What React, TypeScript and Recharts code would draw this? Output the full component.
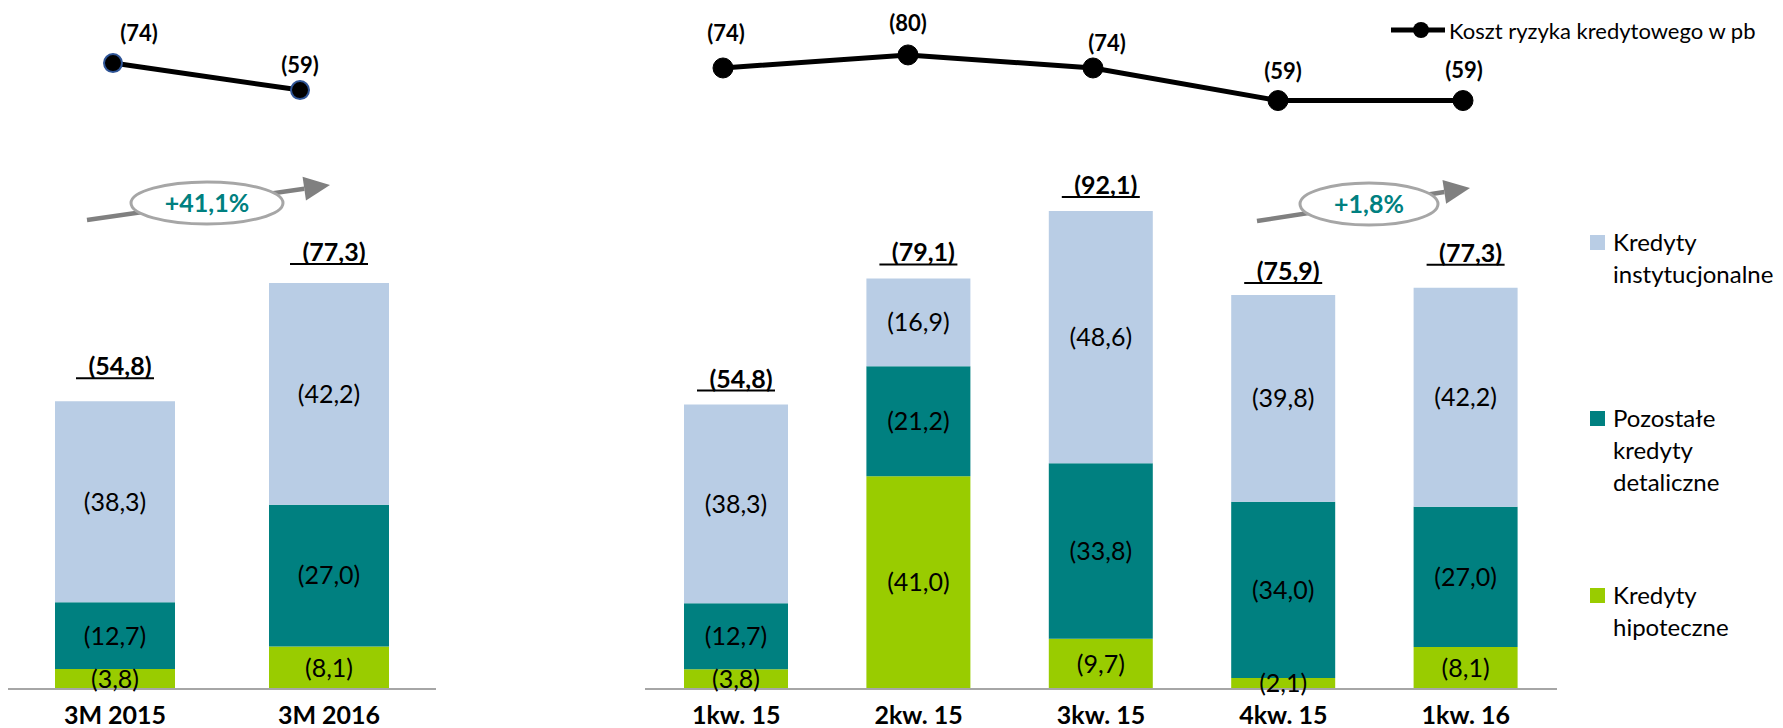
import React from "react";
import {
  Bar,
  ComposedChart,
  LabelList,
  Legend,
  Line,
  LineChart,
  XAxis,
  YAxis,
} from "recharts";

// 3M comparison (left panel)
const leftPeriods = ["3M 2015", "3M 2016"];
const leftHipoteczne = [3.8, 8.1];
const leftPozostale = [12.7, 27.0];
const leftInstytucjonalne = [38.3, 42.2];
const leftTotals = [54.8, 77.3];
const leftKoszt = [74, 59];

// quarterly (right panel)
const quarters = ["1kw. 15", "2kw. 15", "3kw. 15", "4kw. 15", "1kw. 16"];
const hipoteczne = [3.8, 41.0, 9.7, 2.1, 8.1];
const pozostale = [12.7, 21.2, 33.8, 34.0, 27.0];
const instytucjonalne = [38.3, 16.9, 48.6, 39.8, 42.2];
const totals = [54.8, 79.1, 92.1, 75.9, 77.3];
const koszt = [74, 80, 74, 59, 59];

const growthLabels = ["+41,1%", "+1,8%"];

const NAME_HIP = "Kredyty hipoteczne";
const NAME_POZ = "Pozostałe kredyty detaliczne";
const NAME_INST = "Kredyty instytucjonalne";
const NAME_KOSZT = "Koszt ryzyka kredytowego w pb";

const C_INST = "#B9CDE5";
const C_POZ = "#008080";
const C_HIP = "#99CC00";
const C_AXIS = "#A6A6A6";
const C_ARROW = "#808080";
const FONT = "Lato, 'Open Sans', sans-serif";

const leftRows = leftPeriods.map((period, i) => ({
  period,
  hip: leftHipoteczne[i],
  poz: leftPozostale[i],
  inst: leftInstytucjonalne[i],
  total: leftTotals[i],
  koszt: leftKoszt[i],
}));

const rows = quarters.map((period, i) => ({
  period,
  hip: hipoteczne[i],
  poz: pozostale[i],
  inst: instytucjonalne[i],
  total: totals[i],
  koszt: koszt[i],
}));

const fmt1 = (v: number) => `(${Number(v).toFixed(1).replace(".", ",")})`;

const CategoryTick = (props: any) => {
  const { x, y, payload } = props;
  return (
    <text x={x} y={y + 35} textAnchor="middle" fontSize={25} fontWeight={700} fill="#000" fontFamily={FONT}>
      {payload.value}
    </text>
  );
};

// label placement tweaks, as in the source slide
const makeTotalLabel = (dy: number[]) => (props: any) => {
  const { x, y, width, value, index } = props;
  const cx = Number(x) + Number(width) / 2;
  const by = Number(y) - 17 + (dy[index] ?? 0);
  return (
    <g>
      <text x={cx + 5} y={by} textAnchor="middle" fontSize={25} fontWeight={700} fill="#000" fontFamily={FONT}>
        {fmt1(value)}
      </text>
      <line x1={cx - 39} y1={by + 3} x2={cx + 39} y2={by + 3} stroke="#000" strokeWidth={2} />
    </g>
  );
};

const makeKosztLabel = (dx: number[], dy: number[]) => (props: any) => {
  const { x, y, value, index } = props;
  return (
    <text
      x={Number(x) + (dx[index] ?? 0)}
      y={Number(y) + (dy[index] ?? -24)}
      textAnchor="middle"
      fontSize={22}
      fontWeight={700}
      fill="#000"
      fontFamily={FONT}
    >
      ({value})
    </text>
  );
};

const segmentLabel = {
  position: "center" as const,
  fill: "#000",
  fontSize: 25,
  fontFamily: FONT,
  formatter: (v: any) => fmt1(v),
};

const ChartLegend = ({ payload }: any) => {
  const items: any[] = payload ?? [];
  const find = (k: string) => items.find((p) => p.dataKey === k);
  const stacked = ["inst", "poz", "hip"].map(find).filter(Boolean);
  const tops = [226, 402, 579];
  return (
    <div style={{ position: "relative", width: 1183, height: 728, fontFamily: FONT, color: "#000" }}>
      <div style={{ position: "absolute", left: 790, top: 14, height: 32, display: "flex", alignItems: "center" }}>
        <svg width={56} height={20}>
          <line x1={1} y1={10} x2={55} y2={10} stroke="#000" strokeWidth={5} />
          <circle cx={31} cy={10} r={8} fill="#000" />
        </svg>
        <span style={{ fontSize: 22, marginLeft: 3, whiteSpace: "nowrap" }}>{NAME_KOSZT}</span>
      </div>
      {stacked.map((p: any, i: number) => (
        <div key={p.dataKey} style={{ position: "absolute", left: 990, top: tops[i], width: 185 }}>
          <div style={{ position: "absolute", left: 0, top: 9, width: 15, height: 15, background: p.color }} />
          <div style={{ marginLeft: 23, width: 160, fontSize: 24, lineHeight: "32px" }}>{p.value}</div>
        </div>
      ))}
    </div>
  );
};

const Growth = ({ x1, y1, cx, cy, x2, y2, rx, label }: any) => {
  const ang = Math.atan2(y2 - y1, x2 - x1);
  const len = 26;
  const hw = 12;
  const bx = x2 - len * Math.cos(ang);
  const by = y2 - len * Math.sin(ang);
  const px = -Math.sin(ang) * hw;
  const py = Math.cos(ang) * hw;
  return (
    <g>
      <line x1={x1} y1={y1} x2={bx} y2={by} stroke={C_ARROW} strokeWidth={4.5} />
      <polygon points={`${x2},${y2} ${bx + px},${by + py} ${bx - px},${by - py}`} fill={C_ARROW} />
      <ellipse cx={cx} cy={cy} rx={rx} ry={21} fill="#fff" stroke={C_AXIS} strokeWidth={3} />
      <text x={cx} y={cy + 9} textAnchor="middle" fontSize={25} fontWeight={700} fill={C_POZ} fontFamily={FONT}>
        {label}
      </text>
    </g>
  );
};

const axisProps = {
  dataKey: "period",
  height: 39,
  axisLine: { stroke: C_AXIS, strokeWidth: 2 },
  tickLine: false,
  tickSize: 0,
  tickMargin: 0,
  tick: <CategoryTick />,
  interval: 0 as const,
};

export default function App() {
  return (
    <div style={{ position: "absolute", left: 0, top: 0, width: 1783, height: 728, overflow: "hidden", background: "#fff", fontFamily: FONT }}>
      <div style={{ position: "absolute", left: 0, top: 0 }}>
        <ComposedChart width={450} height={728} data={leftRows} margin={{ top: 0, right: 14, bottom: 0, left: 8 }}>
          <XAxis {...axisProps} />
          <YAxis yAxisId="bars" hide domain={[0, 131.2]} />
          <Bar yAxisId="bars" dataKey="hip" name={NAME_HIP} stackId="s" fill={C_HIP} barSize={120} isAnimationActive={false}>
            <LabelList dataKey="hip" {...segmentLabel} />
          </Bar>
          <Bar yAxisId="bars" dataKey="poz" name={NAME_POZ} stackId="s" fill={C_POZ} barSize={120} isAnimationActive={false}>
            <LabelList dataKey="poz" {...segmentLabel} />
          </Bar>
          <Bar yAxisId="bars" dataKey="inst" name={NAME_INST} stackId="s" fill={C_INST} barSize={120} isAnimationActive={false}>
            <LabelList dataKey="inst" {...segmentLabel} />
            <LabelList dataKey="total" content={makeTotalLabel([-9, -5])} />
          </Bar>
        </ComposedChart>
      </div>

      <div style={{ position: "absolute", left: 0, top: 0 }}>
        <LineChart width={450} height={200} data={leftRows} margin={{ top: 0, right: 150, bottom: 0, left: 113 }}>
          <XAxis dataKey="period" hide />
          <YAxis hide domain={[-2, 109]} />
          <Line
            dataKey="koszt"
            name={NAME_KOSZT}
            stroke="#000"
            strokeWidth={5}
            dot={{ r: 9, fill: "#000", stroke: "#2F5597", strokeWidth: 2 }}
            isAnimationActive={false}
          >
            <LabelList dataKey="koszt" content={makeKosztLabel([26, 0], [-22, -17])} />
          </Line>
        </LineChart>
      </div>

      <div style={{ position: "absolute", left: 600, top: 0 }}>
        <ComposedChart width={1183} height={728} data={rows} margin={{ top: 0, right: 226, bottom: 0, left: 45 }}>
          <XAxis {...axisProps} />
          <YAxis yAxisId="bars" hide domain={[0, 132.75]} />
          <Bar yAxisId="bars" dataKey="hip" name={NAME_HIP} stackId="s" fill={C_HIP} barSize={104} isAnimationActive={false}>
            <LabelList dataKey="hip" {...segmentLabel} />
          </Bar>
          <Bar yAxisId="bars" dataKey="poz" name={NAME_POZ} stackId="s" fill={C_POZ} barSize={104} isAnimationActive={false}>
            <LabelList dataKey="poz" {...segmentLabel} />
          </Bar>
          <Bar yAxisId="bars" dataKey="inst" name={NAME_INST} stackId="s" fill={C_INST} barSize={104} isAnimationActive={false}>
            <LabelList dataKey="inst" {...segmentLabel} />
            <LabelList dataKey="total" content={makeTotalLabel([0, 0, 0, 2, -9])} />
          </Bar>
          <Legend
            layout="horizontal"
            verticalAlign="middle"
            align="center"
            wrapperStyle={{ left: 0, top: 0, width: 1183, height: 728, pointerEvents: "none" }}
            content={<ChartLegend />}
          />
        </ComposedChart>
      </div>

      <div style={{ position: "absolute", left: 0, top: 0 }}>
        <LineChart width={1783} height={200} data={rows} margin={{ top: 0, right: 320, bottom: 0, left: 723 }}>
          <XAxis dataKey="period" hide />
          <YAxis hide domain={[13.2, 105.3]} />
          <Line
            dataKey="koszt"
            name={NAME_KOSZT}
            stroke="#000"
            strokeWidth={5}
            dot={{ r: 10, fill: "#000", stroke: "#000", strokeWidth: 1 }}
            isAnimationActive={false}
          >
            <LabelList dataKey="koszt" content={makeKosztLabel([3, 0, 14, 5, 1], [-27, -24, -17, -22, -23])} />
          </Line>
        </LineChart>
      </div>

      <svg width={1783} height={728} style={{ position: "absolute", left: 0, top: 0, pointerEvents: "none" }}>
        <Growth x1={87} y1={220} cx={207} cy={203} x2={330} y2={185} rx={76} label={growthLabels[0]} />
        <Growth x1={1257} y1={221} cx={1369} cy={204} x2={1470} y2={188} rx={69} label={growthLabels[1]} />
      </svg>
    </div>
  );
}
